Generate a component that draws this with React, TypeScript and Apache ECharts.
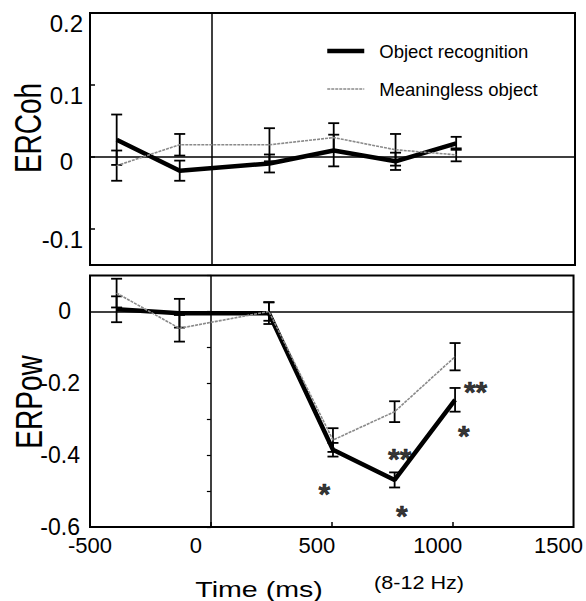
import React, { useEffect, useRef } from "react";
import * as echarts from "echarts";

// ---- data ----
const times = [-390, -130, 240, 505, 760, 1010];

const cohObject = [0.024, -0.019, -0.009, 0.009, -0.006, 0.019];
const cohObjectErr = [0.035, 0.014, 0.0125, 0.022, 0.012, 0.009];
const cohMeaningless = [-0.012, 0.017, 0.017, 0.027, 0.01, 0.003];
const cohMeaninglessErr = [0.021, 0.015, 0.023, 0.02, 0.022, 0.009];

const powObject = [0.006, -0.005, -0.005, -0.385, -0.469, -0.246];
const powObjectErr = [0.036, 0.04, 0.03, 0.019, 0.021, 0.033];
const powMeaningless = [0.051, -0.047, 0.0, -0.358, -0.279, -0.126];
const powMeaninglessErr = [0.04, 0.037, 0.026, 0.033, 0.029, 0.038];

const xTickLabels = [-500, 0, 500, 1000, 1500];
const xInnerTicks = [0, 500, 1000];
const cohTickLabels = [0.2, 0.1, 0, -0.1];
const cohTicks = [0.1, 0, -0.1];
const powTickLabels = [0, -0.2, -0.4, -0.6];

const seriesNames = ["Object recognition", "Meaningless object"];

// significance markers: [time, value, text]
const sigTimes = [469, 781, 790, 1095, 1046];
const sigValues = [-0.486, -0.39, -0.548, -0.204, -0.327];
const sigTexts = ["*", "**", "*", "**", "*"];

const FONT = "'Liberation Sans', Arial, Helvetica, sans-serif";
const fmt = (v: number) => String(Math.round(v * 10) / 10);

function errorBars(xIdx: number, yIdx: number, means: number[], errs: number[]) {
  return {
    type: "custom",
    xAxisIndex: xIdx,
    yAxisIndex: yIdx,
    silent: true,
    z: 4,
    encode: { x: 0, y: [1, 2] },
    data: times.map((t, i) => [t, means[i] - errs[i], means[i] + errs[i]]),
    renderItem: (_params: any, api: any) => {
      const x = api.value(0);
      const top = api.coord([x, api.value(2)]);
      const bot = api.coord([x, api.value(1)]);
      const hw = 5.5;
      const st = { stroke: "#000", lineWidth: 1.8 };
      return {
        type: "group",
        children: [
          { type: "line", shape: { x1: top[0], y1: top[1], x2: bot[0], y2: bot[1] }, style: st },
          { type: "line", shape: { x1: top[0] - hw, y1: top[1], x2: top[0] + hw, y2: top[1] }, style: st },
          { type: "line", shape: { x1: bot[0] - hw, y1: bot[1], x2: bot[0] + hw, y2: bot[1] }, style: st },
        ],
      };
    },
  };
}

const blackLine = { color: "#000", width: 4.5 };
const grayLine = { color: "#8a8a8a", width: 1.6, type: [3, 1] as any };

export default function App() {
  const ref = useRef<HTMLDivElement>(null);

  useEffect(() => {
    if (!ref.current) return;
    const chart = echarts.init(ref.current, undefined, { renderer: "svg" });

    const zeroAxisLine = { show: true, onZero: true, lineStyle: { color: "#000", width: 1.5 } };

    const option: any = {
      animation: false,
      backgroundColor: "#fff",
      textStyle: { fontFamily: FONT, color: "#000" },
      grid: [
        { left: 90, top: 13, width: 485, height: 252, show: true, borderColor: "#000", borderWidth: 2, containLabel: false },
        { left: 90, top: 275.5, width: 485, height: 251.5, show: true, borderColor: "#000", borderWidth: 2, containLabel: false },
      ],
      xAxis: [
        {
          type: "value", gridIndex: 0, min: -500, max: 1500,
          axisLine: { show: false, onZero: false }, axisTick: { show: false }, axisLabel: { show: false }, splitLine: { show: false },
        },
        {
          type: "value", gridIndex: 0, min: -500, max: 1500,
          axisLine: { ...zeroAxisLine, onZeroAxisIndex: 0 }, axisTick: { show: false }, axisLabel: { show: false }, splitLine: { show: false },
        },
        {
          type: "value", gridIndex: 1, min: -500, max: 1500, interval: 500, position: "bottom",
          axisLine: { show: false, onZero: false },
          axisTick: { show: true, inside: true, length: 5, customValues: xInnerTicks, lineStyle: { color: "#000", width: 1.5 } },
          axisLabel: {
            show: true, margin: 7, showMinLabel: true, showMaxLabel: true,
            customValues: xTickLabels,
            formatter: (v: number) => (v === -500 ? `{e|${v}}` : `{s|${v}}`),
            rich: {
              e: { fontSize: 22, color: "#000", fontFamily: FONT },
              s: { fontSize: 22, color: "#000", fontFamily: FONT, padding: [0, 30, 0, 0] },
            },
          },
          splitLine: { show: false },
        },
        {
          type: "value", gridIndex: 1, min: -500, max: 1500,
          axisLine: { ...zeroAxisLine, onZeroAxisIndex: 2 }, axisTick: { show: false }, axisLabel: { show: false }, splitLine: { show: false },
        },
      ],
      yAxis: [
        {
          type: "value", gridIndex: 0, min: -0.15, max: 0.2, position: "left",
          axisLine: { show: false, onZero: false },
          axisTick: { show: true, inside: true, length: 5, customValues: cohTicks, lineStyle: { color: "#000", width: 1.5 } },
          axisLabel: {
            show: true, margin: 7, customValues: cohTickLabels,
            formatter: (v: number) => (v === 0 ? "{z|0}" : `{n|${fmt(v)}}`),
            rich: {
              n: { fontSize: 24, color: "#000", fontFamily: FONT, padding: [20, 0, 0, 0] },
              z: { fontSize: 24, color: "#000", fontFamily: FONT, padding: [8, 10, 0, 0] },
            },
          },
          splitLine: { show: false },
        },
        {
          type: "value", gridIndex: 0, min: -0.15, max: 0.2, position: "left",
          axisLine: { ...zeroAxisLine, onZeroAxisIndex: 0 }, axisTick: { show: false }, axisLabel: { show: false }, splitLine: { show: false },
        },
        {
          type: "value", gridIndex: 1, min: -0.6, max: 0.1, position: "left",
          axisLine: { show: false, onZero: false },
          axisTick: { show: false },
          axisLabel: {
            show: true, margin: 10, customValues: powTickLabels,
            formatter: (v: number) => (v === 0 ? "{z|0}" : `{n|${fmt(v)}}`),
            rich: {
              n: { fontSize: 23, color: "#000", fontFamily: FONT },
              z: { fontSize: 23, color: "#000", fontFamily: FONT, padding: [0, 9, 0, 0] },
            },
          },
          splitLine: { show: false },
        },
        {
          type: "value", gridIndex: 1, min: -0.6, max: 0.1, interval: 0.1, position: "left",
          axisLine: { ...zeroAxisLine, onZeroAxisIndex: 2 },
          axisTick: { show: true, inside: false, length: 4, lineStyle: { color: "#000", width: 1.2 } },
          axisLabel: { show: false }, splitLine: { show: false },
        },
      ],
      legend: {
        data: seriesNames,
        orient: "vertical",
        left: 325,
        top: 41,
        padding: 0,
        itemWidth: 37,
        itemHeight: 20,
        itemGap: 18,
        selectedMode: false,
        itemStyle: { opacity: 0 },
        lineStyle: { width: "inherit" },
        textStyle: { fontSize: 18.5, color: "#000", fontFamily: FONT, padding: [0, 0, 0, 10], lineHeight: 20 },
      },
      series: [
        {
          name: seriesNames[0], type: "line", xAxisIndex: 0, yAxisIndex: 0,
          symbol: "none", lineStyle: blackLine, itemStyle: { color: "#000" }, z: 3,
          data: times.map((t, i) => [t, cohObject[i]]),
        },
        {
          name: seriesNames[1], type: "line", xAxisIndex: 0, yAxisIndex: 0,
          symbol: "none", lineStyle: grayLine, itemStyle: { color: "#8a8a8a" }, z: 5,
          data: times.map((t, i) => [t, cohMeaningless[i]]),
        },
        errorBars(0, 0, cohObject, cohObjectErr),
        errorBars(0, 0, cohMeaningless, cohMeaninglessErr),
        {
          name: seriesNames[0], type: "line", xAxisIndex: 2, yAxisIndex: 2,
          symbol: "none", lineStyle: blackLine, itemStyle: { color: "#000" }, z: 3,
          data: times.map((t, i) => [t, powObject[i]]),
        },
        {
          name: seriesNames[1], type: "line", xAxisIndex: 2, yAxisIndex: 2,
          symbol: "none", lineStyle: grayLine, itemStyle: { color: "#8a8a8a" }, z: 5,
          data: times.map((t, i) => [t, powMeaningless[i]]),
        },
        errorBars(2, 2, powObject, powObjectErr),
        errorBars(2, 2, powMeaningless, powMeaninglessErr),
        {
          type: "scatter", xAxisIndex: 2, yAxisIndex: 2, silent: true,
          symbolSize: 1, itemStyle: { color: "rgba(0,0,0,0)" }, z: 6,
          data: sigTimes.map((t, i) => [t, sigValues[i], sigTexts[i]]),
          label: {
            show: true, position: "inside", offset: [0, 7],
            formatter: (p: any) => p.data[2],
            fontSize: 30, fontWeight: "bold", color: "#000", fontFamily: FONT,
            textBorderColor: "#000", textBorderWidth: 0.6,
          },
        },
      ],
      graphic: [
        {
          type: "text", x: 29, y: 128, rotation: Math.PI / 2, scaleY: 1.3,
          style: { text: "ERCoh", fontSize: 28, fontFamily: FONT, fill: "#000", textAlign: "center", textVerticalAlign: "middle" },
        },
        {
          type: "text", x: 30, y: 402, rotation: Math.PI / 2, scaleY: 1.3,
          style: { text: "ERPow", fontSize: 28, fontFamily: FONT, fill: "#000", textAlign: "center", textVerticalAlign: "middle" },
        },
        {
          type: "text", x: 259, y: 589, scaleX: 1.3,
          style: { text: "Time (ms)", fontSize: 22, fontFamily: FONT, fill: "#000", textAlign: "center", textVerticalAlign: "middle" },
        },
        {
          type: "text", x: 419, y: 583, scaleX: 1.2,
          style: { text: "(8-12 Hz)", fontSize: 18, fontFamily: FONT, fill: "#000", textAlign: "center", textVerticalAlign: "middle" },
        },
      ],
    };

    chart.setOption(option);
    return () => chart.dispose();
  }, []);

  return (
    <div
      ref={ref}
      style={{ position: "fixed", left: 0, top: 0, width: 586, height: 601, background: "#fff" }}
    />
  );
}
